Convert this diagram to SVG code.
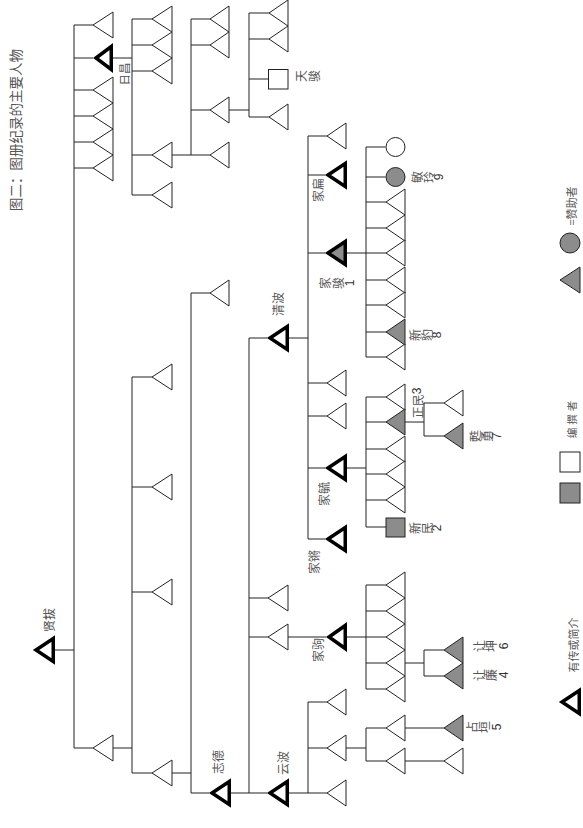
<svg xmlns="http://www.w3.org/2000/svg" width="583" height="828" viewBox="0 0 583 828">
<style>
.t{fill:#fff;stroke:#222;stroke-width:1}
.g{fill:#8c8c8c;stroke:#222;stroke-width:1}
.b{fill:#fff;stroke:#000;stroke-width:3.5;stroke-linejoin:miter}
.bg{fill:#8c8c8c;stroke:#000;stroke-width:3.5;stroke-linejoin:miter}
.c path{fill:none;stroke:#222;stroke-width:1}
text{font-family:"Noto Sans CJK SC","Liberation Sans",sans-serif;font-size:12px;fill:#555;text-anchor:middle;dominant-baseline:central}
.n{font-family:"Liberation Sans","Noto Sans CJK SC",sans-serif;fill:#333}
</style>
<rect width="583" height="828" fill="#fff"/>
<text transform="translate(15,130) rotate(-90)" style="font-size:13.5px">图二：图册纪录的主要人物</text>

<g id="connectors" class="c">
<path d="M55 650H74M74 25V748M74 25H93M74 58H93M74 90H93M74 116H93M74 142H93M74 168H93M74 748H93"/>
<path d="M113 58H132M132 19V195M132 19H152M132 45H152M132 71H152M132 155H152M132 195H152"/>
<path d="M172 155H191M191 19V155M191 19H210M191 45H210M191 110H210M191 155H210"/>
<path d="M229 110H249M249 13V117M249 13H269M249 39H269M249 79H268.5M249 117H269"/>
<path d="M113 748H132M132 377V773M132 377H152M132 487H152M132 592H152M132 773H152"/>
<path d="M172 773H191M191 293V793M191 293H210M191 793H209"/>
<path d="M231 793H249M249 338V793M249 338H267M249 598H268M249 637H268M249 793H267"/>
<path d="M289 338H308M308 136V539M308 136H327M308 175H325M308 253H325M308 383H327M308 416H327M308 468H325M308 539H325"/>
<path d="M347 253H366M366 147V357M366 147H385.5M366 177H385.5M366 202H386M366 228H386M366 253H386M366 280H386M366 305H386M366 332H386M366 357H386"/>
<path d="M347 468H366M366 397V527M366 397H386M366 422H386M366 449H386M366 474H386M366 500H386M366 527H386"/>
<path d="M405 422H424M424 403V436M424 403H444M424 436H444"/>
<path d="M288 637H326M347 637H366M366 585V689M366 585H386M366 611H386M366 637H386M366 663H386M366 689H386"/>
<path d="M405 663H424M424 650V676M424 650H444M424 676H444"/>
<path d="M289 793H308M308 702V793M308 702H327M308 748H327M308 793H327"/>
<path d="M346 748H366M366 728V761M366 728H386M366 761H386M405 728H444M405 761H444"/>
</g>

<g id="xianba"><path class="b" d="M36 650L53.25 638.5L53.25 661.5Z"/><text transform="translate(48,620) rotate(-90)">贤拔</text></g>

<g id="g2a"><path class="t" d="M93 25L113 12L113 38Z"/></g>
<g id="richang"><path class="b" d="M96 58L111.25 46.5L111.25 69.5Z"/><text transform="translate(123.5,74) rotate(-90)" style="font-size:11.5px">日昌</text></g>
<g id="g2c"><path class="t" d="M93 90L113 77L113 103Z"/></g>
<g id="g2d"><path class="t" d="M93 116L113 103L113 129Z"/></g>
<g id="g2e"><path class="t" d="M93 142L113 129L113 155Z"/></g>
<g id="g2f"><path class="t" d="M93 168L113 155L113 181Z"/></g>
<g id="g2g"><path class="t" d="M93 748L113 735L113 761Z"/></g>

<g id="g3a"><path class="t" d="M152 19L172 6L172 32Z"/></g>
<g id="g3b"><path class="t" d="M152 45L172 32L172 58Z"/></g>
<g id="g3c"><path class="t" d="M152 71L172 58L172 84Z"/></g>
<g id="g3d"><path class="t" d="M152 155L172 142L172 168Z"/></g>
<g id="g3e"><path class="t" d="M152 195L172 182L172 208Z"/></g>

<g id="g4a"><path class="t" d="M210 19L229 6L229 32Z"/></g>
<g id="g4b"><path class="t" d="M210 45L229 32L229 58Z"/></g>
<g id="g4c"><path class="t" d="M210 110L229 97L229 123Z"/></g>
<g id="g4d"><path class="t" d="M210 155L229 142L229 168Z"/></g>

<g id="g5a"><path class="t" d="M269 13L288 0L288 26Z"/></g>
<g id="g5b"><path class="t" d="M269 39L288 26L288 52Z"/></g>
<g id="tianjun"><rect class="t" x="268.5" y="69.5" width="19.5" height="19.5"/><text transform="translate(300,76) rotate(-90)"><tspan x="0" dy="0">天</tspan><tspan x="0" dy="13">骏</tspan></text></g>
<g id="g5d"><path class="t" d="M269 117L288 104L288 130Z"/></g>

<g id="g3f"><path class="t" d="M152 377L172 364L172 390Z"/></g>
<g id="g3g"><path class="t" d="M152 487L172 474L172 500Z"/></g>
<g id="g3h"><path class="t" d="M152 592L172 579L172 605Z"/></g>
<g id="g3i"><path class="t" d="M152 773L172 760L172 786Z"/></g>

<g id="g4e"><path class="t" d="M210 293L229 280L229 306Z"/></g>
<g id="zhide"><path class="b" d="M212 793L229.25 781.5L229.25 804.5Z"/><text transform="translate(217,762) rotate(-90)">志德</text></g>

<g id="qingbo"><path class="b" d="M270 338L287.25 326.5L287.25 349.5Z"/><text transform="translate(277,304) rotate(-90)">清波</text></g>
<g id="g5f"><path class="t" d="M268 598L288 585L288 611Z"/></g>
<g id="g5g"><path class="t" d="M268 637L288 624L288 650Z"/></g>
<g id="yunbo"><path class="b" d="M270 793L287.25 781.5L287.25 804.5Z"/><text transform="translate(282,763) rotate(-90)">云波</text></g>

<g id="g6a"><path class="t" d="M327 136L346 123L346 149Z"/></g>
<g id="jiabian"><path class="b" d="M328 175L345.25 163.5L345.25 186.5Z"/><text transform="translate(317,190) rotate(-90)">家扁</text></g>
<g id="jiajun"><path class="bg" d="M328 253L345.25 241.5L345.25 264.5Z"/><text transform="translate(324,283) rotate(-90)"><tspan x="0" dy="0">家</tspan><tspan x="0" dy="13">骏</tspan><tspan class="n" x="0" dy="13">1</tspan></text></g>
<g id="g6d"><path class="t" d="M327 383L346 370L346 396Z"/></g>
<g id="g6e"><path class="t" d="M327 416L346 403L346 429Z"/></g>
<g id="jiayu"><path class="b" d="M328 468L345.25 456.5L345.25 479.5Z"/><text transform="translate(323,494) rotate(-90)">家毓</text></g>
<g id="jiaqiang"><path class="b" d="M328 539L345.25 527.5L345.25 550.5Z"/><text transform="translate(313,562) rotate(-90)">家锵</text></g>

<g id="c7a"><circle class="t" cx="395.5" cy="147" r="9.5"/></g>
<g id="minling"><circle class="g" cx="395.5" cy="177" r="9.5"/><text transform="translate(416,177) rotate(-90)"><tspan x="0" dy="0">敏</tspan><tspan x="0" dy="11.5">玲</tspan><tspan class="n" x="0" dy="11.5">9</tspan></text></g>
<g id="g7c"><path class="t" d="M386 202L405 189L405 215Z"/></g>
<g id="g7d"><path class="t" d="M386 228L405 215L405 241Z"/></g>
<g id="g7e"><path class="t" d="M386 253L405 240L405 266Z"/></g>
<g id="g7f"><path class="t" d="M386 280L405 267L405 293Z"/></g>
<g id="g7g"><path class="t" d="M386 305L405 292L405 318Z"/></g>
<g id="xinbao"><path class="g" d="M386 332L405 319L405 345Z"/><text transform="translate(414,335) rotate(-90)"><tspan x="0" dy="0">新</tspan><tspan x="0" dy="12">豹</tspan><tspan class="n" x="0" dy="11">8</tspan></text></g>
<g id="g7i"><path class="t" d="M386 357L405 344L405 370Z"/></g>

<g id="g7j"><path class="t" d="M386 397L405 384L405 410Z"/></g>
<g id="zhengmin"><path class="g" d="M386 422L405 409L405 435Z"/><text transform="translate(417,403) rotate(-90)">正民<tspan class="n">3</tspan></text></g>
<g id="g7l"><path class="t" d="M386 449L405 436L405 462Z"/></g>
<g id="g7m"><path class="t" d="M386 474L405 461L405 487Z"/></g>
<g id="g7n"><path class="t" d="M386 500L405 487L405 513Z"/></g>
<g id="xinmin"><rect class="g" x="386" y="518" width="19" height="19"/><text transform="translate(414,528) rotate(-90)"><tspan x="0" dy="0">新</tspan><tspan x="0" dy="12">民</tspan><tspan class="n" x="0" dy="11">2</tspan></text></g>

<g id="g8a"><path class="t" d="M444 403L463 390L463 416Z"/></g>
<g id="suyong"><path class="g" d="M444 436L463 423L463 449Z"/><text transform="translate(474,436) rotate(-90)"><tspan x="0" dy="0">甦</tspan><tspan x="0" dy="11.5">勇</tspan><tspan class="n" x="0" dy="11.5">7</tspan></text></g>

<g id="jiaju"><path class="b" d="M329 637L345.25 625.5L345.25 648.5Z"/><text transform="translate(317,650) rotate(-90)">家驹</text></g>
<g id="g7p"><path class="t" d="M386 585L405 572L405 598Z"/></g>
<g id="g7q"><path class="t" d="M386 611L405 598L405 624Z"/></g>
<g id="g7r"><path class="t" d="M386 637L405 624L405 650Z"/></g>
<g id="g7s"><path class="t" d="M386 663L405 650L405 676Z"/></g>
<g id="g7t"><path class="t" d="M386 689L405 676L405 702Z"/></g>
<g id="rangkun"><path class="g" d="M444 650L463 637L463 663Z"/><text transform="translate(478,646) rotate(-90)"><tspan x="0" dy="0">让</tspan><tspan x="0" dy="12">坤</tspan><tspan class="n" x="0" dy="13.5">6</tspan></text></g>
<g id="ranglian"><path class="g" d="M444 676L463 663L463 689Z"/><text transform="translate(478,675) rotate(-90)"><tspan x="0" dy="0">让</tspan><tspan x="0" dy="12">廉</tspan><tspan class="n" x="0" dy="13.5">4</tspan></text></g>

<g id="g6h"><path class="t" d="M327 702L346 689L346 715Z"/></g>
<g id="g6i"><path class="t" d="M327 748L346 735L346 761Z"/></g>
<g id="g6j"><path class="t" d="M327 793L346 780L346 806Z"/></g>
<g id="g7u"><path class="t" d="M386 728L405 715L405 741Z"/></g>
<g id="g7v"><path class="t" d="M386 761L405 748L405 774Z"/></g>
<g id="zhanyuan"><path class="g" d="M444 728L463 715L463 741Z"/><text transform="translate(471,727) rotate(-90)"><tspan x="0" dy="0">占</tspan><tspan x="0" dy="11.5">垣</tspan><tspan class="n" x="0" dy="14">5</tspan></text></g>
<g id="g8f"><path class="t" d="M444 761L463 748L463 774Z"/></g>

<g id="legend">
<text transform="translate(571,206) rotate(-90)" style="font-size:11px">=赞助者</text>
<circle class="g" cx="570" cy="243" r="10"/>
<path class="g" d="M560 280L580 267L580 293Z"/>
<text transform="translate(571,418) rotate(-90)" style="font-size:10.5px;letter-spacing:3px">编撰者</text>
<rect class="t" x="560" y="452" width="20" height="20"/>
<rect class="g" x="560" y="483" width="20" height="20"/>
<text transform="translate(573,645) rotate(-90)" style="font-size:11px">有传或简介</text>
<path class="b" d="M562 702L579.25 690.5L579.25 713.5Z"/>
</g>
</svg>
